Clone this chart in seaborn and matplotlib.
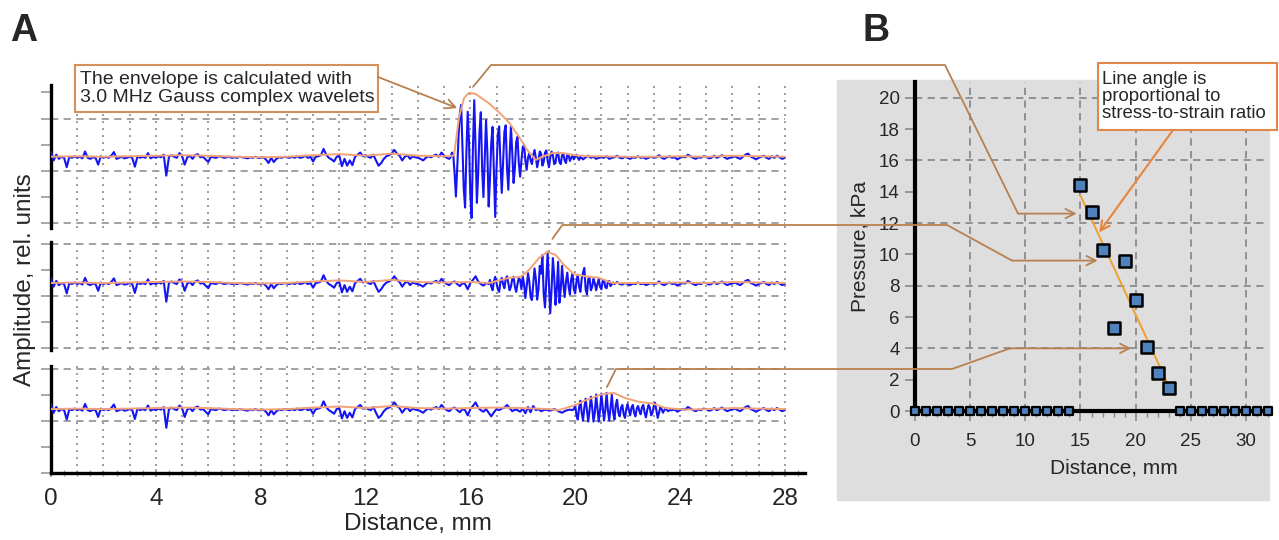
import numpy as np
import pandas as pd
import matplotlib
matplotlib.use("Agg")
import matplotlib.pyplot as plt
import seaborn as sns
from matplotlib.patches import Rectangle

# ---------------- panel A data (distance in mm, amplitude in rel. units) ----------------
# background noise common to the three traces, one value every 0.1 mm (0 ... 28 mm),
# given relative to the trace level
background = [
    0.12, -0.05, 0.06, -0.02, 0.02, 0.00, -0.18, 0.02, 0.00, 0.03,
    0.00, 0.02, -0.01, 0.12, 0.00, -0.02, 0.01, 0.00, -0.13, 0.03,
    0.00, 0.02, 0.00, 0.04, 0.11, -0.02, 0.00, 0.02, -0.01, 0.00,
    0.02, 0.00, -0.17, 0.03, 0.00, 0.02, 0.00, 0.09, -0.01, 0.02,
    0.00, 0.03, 0.01, 0.06, -0.34, 0.02, 0.05, 0.02, 0.00, 0.09,
    0.04, -0.13, 0.01, 0.04, -0.02, 0.05, 0.07, 0.01, 0.02, -0.03,
    -0.08, 0.02, 0.01, 0.00, 0.03, 0.02, 0.00, 0.01, 0.02, 0.00,
    0.01, 0.00, 0.02, 0.01, 0.00, -0.01, 0.01, 0.00, 0.02, 0.00,
    0.00, 0.01, -0.03, -0.10, 0.00, -0.08, -0.02, 0.01, 0.00, 0.02,
    0.01, 0.00, 0.02, 0.00, 0.03, 0.00, 0.01, 0.04, 0.00, 0.02,
    -0.07, 0.02, 0.03, 0.05, 0.17, 0.06, 0.00, -0.03, -0.07, 0.02,
    0.04, -0.16, -0.02, -0.15, -0.05, -0.14, 0.02, 0.06, 0.10, 0.03,
    0.05, 0.02, 0.00, 0.06, -0.05, -0.15, -0.10, -0.02, 0.03, 0.05,
    0.08, 0.15, 0.08, 0.04, -0.05, 0.02, 0.05, -0.02, 0.03, 0.01,
    0.00, -0.02, -0.05, 0.00, 0.03, 0.01, 0.04, 0.06, 0.02, 0.10,
    0.04, 0.00, -0.02, 0.03, 0.05, 0.00, -0.04, 0.02, 0.00, -0.10,
    0.02, 0.08, 0.15, 0.05, 0.00, -0.03, 0.02, -0.05, -0.12, -0.04,
    0.02, 0.00, 0.03, 0.05, 0.10, 0.04, -0.02, 0.01, 0.00, -0.03,
    0.03, -0.06, 0.06, -0.04, 0.08, 0.00, 0.02, -0.02, 0.00, 0.01,
    -0.01, 0.00, 0.02, 0.00, -0.03, -0.05, -0.02, 0.00, 0.01, -0.04,
    0.00, 0.02, 0.00, -0.03, 0.01, 0.04, 0.00, 0.02, -0.02, 0.00,
    0.01, 0.00, 0.03, -0.02, 0.00, 0.01, 0.04, 0.00, -0.01, 0.02,
    0.00, -0.02, 0.01, 0.00, 0.03, 0.00, 0.01, -0.02, 0.00, 0.02,
    0.00, 0.01, 0.05, 0.00, -0.02, 0.01, 0.03, 0.00, 0.01, -0.03,
    0.00, 0.02, 0.01, 0.06, 0.03, 0.00, -0.02, 0.01, 0.00, 0.03,
    0.02, -0.01, 0.00, 0.04, 0.00, 0.02, 0.05, 0.01, -0.02, 0.00,
    0.01, 0.03, 0.00, -0.02, 0.02, 0.06, 0.08, 0.02, 0.00, -0.03,
    0.00, 0.02, 0.04, 0.00, -0.02, 0.03, 0.00, 0.04, 0.01, -0.02,
    0.00,
]

# echo bursts, one value every 0.05 mm from the start distance
echo1_start = 15.25
echo1 = [
    0.02, 0.10, 0.05, -0.30, -0.74, -0.20, 0.40, 0.85, 1.01, 0.20,
    -0.60, -0.95, 0.10, 0.88, 0.30, -0.70, -1.15, 0.20, 1.10, 0.20,
    -0.86, -0.30, 0.50, 0.87, -0.20, -0.75, 0.00, 0.72, 0.10, -0.93,
    -0.40, 0.30, 0.59, -0.30, -1.13, -0.20, 0.45, 0.60, -0.10, -0.67,
    -0.10, 0.50, 0.62, -0.20, -0.61, 0.05, 0.60, 0.10, -0.48, -0.20,
    0.30, 0.40, -0.10, -0.36, -0.05, 0.20, 0.25, -0.05, -0.23, 0.00,
    0.09, -0.05, -0.12, 0.05, 0.15, 0.00, -0.18, -0.05, 0.12, 0.08,
    -0.15, -0.08, 0.10, 0.14, -0.05, -0.18, 0.00, 0.12, 0.05, -0.12,
    -0.10, 0.08, 0.10, -0.08, -0.12, 0.05, 0.08, -0.05, -0.10, 0.06,
    0.05, -0.06, 0.00, 0.05, -0.03, 0.02, 0.06, 0.00, -0.04, 0.02,
    0.00,
]
echo2_start = 16.70
echo2 = [
    0.00, 0.08, -0.05, -0.12, 0.05, 0.14, 0.02, -0.10, -0.15, 0.05,
    0.12, 0.00, -0.08, 0.10, 0.15, 0.02, -0.12, -0.05, 0.10, 0.14,
    -0.05, -0.15, 0.00, 0.12, 0.08, -0.10, 0.15, 0.00, -0.27, -0.05,
    0.21, 0.05, -0.25, -0.31, 0.00, 0.30, 0.10, -0.30, -0.10, 0.35,
    0.20, 0.56, -0.20, -0.45, 0.10, 0.62, 0.00, -0.56, -0.10, 0.50,
    0.15, -0.40, -0.10, 0.43, -0.36, -0.10, 0.35, 0.00, -0.25, 0.05,
    0.22, -0.05, -0.20, 0.10, 0.20, -0.10, -0.18, 0.05, 0.18, -0.05,
    -0.15, 0.10, 0.22, 0.31, -0.10, -0.20, 0.10, 0.12, -0.12, -0.05,
    0.10, 0.02, -0.12, 0.00, 0.10, -0.05, -0.10, 0.06, 0.08, -0.06,
    -0.08, 0.05, 0.06, -0.04, 0.00, 0.03, 0.00,
]
echo3_start = 19.90
echo3 = [
    0.00, 0.02, 0.10, -0.10, -0.18, 0.05, 0.18, -0.05, -0.20, 0.05,
    0.22, 0.00, -0.22, 0.00, 0.26, 0.05, -0.22, -0.05, 0.30, 0.05,
    -0.22, 0.00, 0.32, 0.05, -0.20, 0.00, 0.33, 0.00, -0.20, 0.05,
    0.30, -0.05, -0.18, 0.10, 0.20, -0.05, -0.12, 0.05, 0.10, -0.08,
    -0.15, 0.02, 0.12, 0.00, -0.10, 0.05, 0.10, -0.05, -0.12, 0.03,
    0.08, -0.02, -0.08, 0.06, 0.10, -0.05, -0.14, 0.00, 0.10, 0.05,
    -0.10, -0.05, 0.08, 0.14, 0.00, -0.15, -0.05, 0.06, 0.02, -0.05,
    0.00, 0.04, 0.00, -0.02, 0.00,
]
trace_level = [0.25, 0.23, 0.21]

# wavelet envelope: slow background (one value per mm) and the peak of each trace
env_background = [0.02, 0.03, 0.02, 0.03, 0.04, 0.05, 0.04, 0.02, 0.01, 0.02,
                  0.05, 0.07, 0.04, 0.08, 0.04, 0.03, 0.04, 0.05, 0.04, 0.02,
                  0.02, 0.03, 0.02, 0.02, 0.03, 0.02, 0.04, 0.03, 0.02]
env1_x = [15.2, 15.38, 15.57, 15.76, 15.95, 16.2, 16.71, 17.09, 17.47, 17.86,
          18.17, 18.49, 18.74, 19.13, 19.51, 20.0, 20.5]
env1_y = [0.03, 0.05, 0.78, 1.14, 1.24, 1.22, 1.04, 0.87, 0.68, 0.40,
          0.15, -0.04, 0.02, 0.09, 0.09, 0.05, 0.03]
env2_x = [16.71, 17.47, 17.92, 18.24, 18.62, 18.94, 19.26, 19.57, 19.95, 20.4, 20.91, 21.42]
env2_y = [0.02, 0.12, 0.14, 0.27, 0.50, 0.62, 0.56, 0.37, 0.19, 0.15, 0.12, 0.02]
env3_x = [19.38, 20.02, 20.4, 21.03, 21.48, 21.93, 22.43, 22.94, 23.45, 24.22]
env3_y = [0.00, 0.10, 0.19, 0.31, 0.33, 0.23, 0.16, 0.13, 0.04, 0.01]

# ---------------- panel B data ----------------
distance_b = [15, 16, 17, 18, 19, 20, 21, 22, 23]
pressure_b = [14.4, 12.7, 10.3, 5.3, 9.6, 7.1, 4.1, 2.4, 1.5]
zero_distance = [0, 1, 2, 3, 4, 5, 6, 7, 8, 9, 10, 11, 12, 13, 14,
                 24, 25, 26, 27, 28, 29, 30, 31, 32]
fit_distance = [15, 23]
fit_pressure = [13.75, 1.6]


def merge(bx, by, px, py):
    """put a detailed segment (px, py) in place of the background samples it covers"""
    bx, by = np.asarray(bx, float), np.asarray(by, float)
    px, py = np.asarray(px, float), np.asarray(py, float)
    keep = (bx < px[0] - 1e-9) | (bx > px[-1] + 1e-9)
    x = np.concatenate([bx[keep], px])
    y = np.concatenate([by[keep], py])
    order = np.argsort(x)
    return x[order], y[order]


bg_x = np.arange(len(background)) * 0.1
envbg_x = np.arange(len(env_background)) * 1.0
echoes = [(echo1_start, echo1), (echo2_start, echo2), (echo3_start, echo3)]
peaks = [(env1_x, env1_y), (env2_x, env2_y), (env3_x, env3_y)]

sns.set_theme(style="white")
plt.rcParams["font.family"] = ["Liberation Sans", "DejaVu Sans"]

W, H = 1279, 540
fig = plt.figure(figsize=(W / 100, H / 100), dpi=100)


def frac(x0, y0, x1, y1):
    return [x0 / W, 1 - y1 / H, (x1 - x0) / W, (y1 - y0) / H]


# grey backdrop of panel B
fig.add_artist(Rectangle((837 / W, 1 - 500 / H), 432 / W, 420 / H,
                         transform=fig.transFigure, color="#dedede", zorder=0))

blue = "#1414f5"
env_col = "#f2a276"
grid_col = "#9a9a9a"

boxes = [(85, 228), (242, 350), (366, 473)]
ylims = [(-1.09, 1.64), (-1.04, 1.04), (-1.0, 1.06)]
axes_a = []
for i, ((top, bot), ylim) in enumerate(zip(boxes, ylims)):
    ax = fig.add_axes(frac(51, top, 805, bot))
    ax.patch.set_alpha(0)
    start, vals = echoes[i]
    ex = start + np.arange(len(vals)) * 0.05
    x, y = merge(bg_x, background, ex, vals)
    sig = pd.DataFrame({"distance": x, "amplitude": y + trace_level[i]})
    sns.lineplot(data=sig, x="distance", y="amplitude", ax=ax, color=blue, lw=1.5,
                 estimator=None, sort=False, zorder=3)
    kx, ky = merge(envbg_x, env_background, *peaks[i])
    env = pd.DataFrame({"distance": kx, "amplitude": ky + trace_level[i]})
    sns.lineplot(data=env, x="distance", y="amplitude", ax=ax, color=env_col, lw=1.4,
                 estimator=None, sort=False, zorder=4)

    ax.set_xlim(0, 28.77)
    ax.set_ylim(*ylim)
    for g in range(1, 29):
        ax.axvline(g, color=grid_col, lw=1.4, ls=(0, (1, 2.6)), zorder=1)
    levels = [v for v in (-1, 0, 1) if ylim[0] <= v <= ylim[1]]
    ax.hlines(levels, 0, 28, colors=grid_col, lw=1.3, linestyles=(0, (4, 3)), zorder=1)
    ax.set_yticks([v for v in np.arange(-1, 1.51, 0.5) if ylim[0] <= v <= ylim[1]])
    ax.tick_params(axis="y", length=7, width=1.2, color=grid_col, labelleft=False, left=True)
    ax.set_xlabel("")
    ax.set_ylabel("")
    for s in ("top", "right"):
        ax.spines[s].set_visible(False)
    ax.spines["left"].set_color("black")
    ax.spines["left"].set_linewidth(2.4)
    if i < 2:
        ax.spines["bottom"].set_visible(False)
        ax.tick_params(axis="x", bottom=False, labelbottom=False)
    else:
        ax.spines["bottom"].set_color("black")
        ax.spines["bottom"].set_linewidth(2.4)
        ax.set_xticks(range(0, 29, 4))
        ax.set_xticks(np.arange(0, 28.6, 0.5), minor=True)
        ax.tick_params(axis="x", which="major", bottom=True, length=6, width=1.2,
                       color=grid_col, direction="inout", labelsize=17.5, pad=8)
        ax.tick_params(axis="x", which="minor", bottom=True, length=5, width=1.0,
                       color=grid_col, direction="inout")
        ax.set_xlabel("Distance, mm", fontsize=17.5)
        ax.xaxis.set_label_coords(0.487, -0.37)
    axes_a.append(ax)

fig.text(25 / W, 1 - 280 / H, "Amplitude, rel. units", rotation=90,
         ha="center", va="center", fontsize=17.5)

# ---------------- panel B ----------------
ax_b = fig.add_axes(frac(915, 82, 1268, 411))
ax_b.set_facecolor("#dedede")
sns.lineplot(x=fit_distance, y=fit_pressure, ax=ax_b, color="#f0a030", lw=1.4, zorder=4)
sns.scatterplot(x=distance_b, y=pressure_b, ax=ax_b, marker="s", s=75, color="#4f81bd",
                edgecolor="black", linewidth=1.8, zorder=5, legend=False)
sns.scatterplot(x=zero_distance, y=[0] * len(zero_distance), ax=ax_b, marker="s", s=30,
                color="#4f81bd", edgecolor="black", linewidth=1.6, zorder=6,
                clip_on=False, legend=False)
ax_b.set_xlim(0, 32)
ax_b.set_ylim(0, 21)
for v in range(5, 31, 5):
    ax_b.axvline(v, color="#8a8a8a", lw=1.3, ls=(0, (4, 3)), zorder=1)
for h in range(4, 21, 4):
    ax_b.axhline(h, color="#8a8a8a", lw=1.3, ls=(0, (4, 3)), zorder=1)
ax_b.set_xticks(range(0, 31, 5))
ax_b.set_xticks(range(0, 33), minor=True)
ax_b.set_yticks(range(0, 21, 2))
ax_b.tick_params(axis="both", which="major", labelsize=13.5, color="#8a8a8a", width=1.2)
ax_b.tick_params(axis="x", which="major", bottom=True, length=7, pad=9)
ax_b.tick_params(axis="x", which="minor", bottom=True, length=4, color="#8a8a8a", width=1.0)
ax_b.tick_params(axis="y", left=True, length=7, pad=4)
for s in ("top", "right"):
    ax_b.spines[s].set_visible(False)
for s in ("left", "bottom"):
    ax_b.spines[s].set_color("black")
    ax_b.spines[s].set_linewidth(3)
ax_b.set_xlabel("Distance, mm", fontsize=15)
ax_b.set_ylabel("Pressure, kPa", fontsize=15)
ax_b.xaxis.set_label_coords(0.564, -0.145)
ax_b.yaxis.set_label_coords(-0.13, 0.5)

# ---------------- overlay: panel letters, callouts and connectors ----------------
ov = fig.add_axes([0, 0, 1, 1], zorder=20)
ov.set_xlim(0, W)
ov.set_ylim(H, 0)
ov.axis("off")
ov.patch.set_alpha(0)


def px(ax, x, y):
    dx, dy = ax.transData.transform((x, y))
    return dx, H - dy


fig.text(24 / W, 1 - 31 / H, "A", fontsize=27, fontweight="bold", ha="center", va="center")
fig.text(876 / W, 1 - 31 / H, "B", fontsize=27, fontweight="bold", ha="center", va="center")

conn = "#b9804f"
arrow = dict(arrowstyle="->,head_length=0.55,head_width=0.28", lw=1.3, shrinkA=0, shrinkB=0)

# envelope peak of each trace -> its point in panel B
tips = [(14.65, 12.6), (16.55, 9.6), (19.6, 4.0)]
rails = [(65, 945, 1018), (225, 947, 1012), (369, 952, 1010)]
lifts = [(4, -6, 18), (5, -13, 10), (-7, -6, 9)]
for i, ax in enumerate(axes_a):
    ex, ey = peaks[i]
    k = int(np.argmax(ey))
    sx, sy = px(ax, ex[k], ey[k] + trace_level[i])
    sx, sy = sx + lifts[i][0], sy + lifts[i][1]
    ty_rail, x_rail, x_bend = rails[i]
    tx, ty = px(ax_b, *tips[i])
    ov.plot([sx, sx + lifts[i][2], x_rail, x_bend], [sy, ty_rail, ty_rail, ty],
            color=conn, lw=1.3, solid_capstyle="round")
    ov.annotate("", xy=(tx, ty), xytext=(x_bend, ty), arrowprops=dict(arrow, color=conn))

# callout A
ov.add_patch(Rectangle((75, 65), 303, 47, facecolor="white", edgecolor="#d4915c", lw=1.5))
ov.text(80, 88.5, "The envelope is calculated with\n3.0 MHz Gauss complex wavelets",
        ha="left", va="center", fontsize=14, linespacing=1.05)
ov.annotate("", xy=px(axes_a[0], 15.5, 1.2), xytext=(378, 77),
            arrowprops=dict(arrow, color=conn))

# callout B
ov.add_patch(Rectangle((1098, 63), 179, 67, facecolor="white", edgecolor="#e0884a", lw=1.5))
ov.text(1102, 96.5, "Line angle is\nproportional to\nstress-to-strain ratio",
        ha="left", va="center", fontsize=13.4, linespacing=1.02)
ov.annotate("", xy=px(ax_b, 16.7, 11.4), xytext=(1173, 130),
            arrowprops=dict(arrow, color="#e8843c", lw=1.5))

fig.savefig("out.png", dpi=100, facecolor="white")
